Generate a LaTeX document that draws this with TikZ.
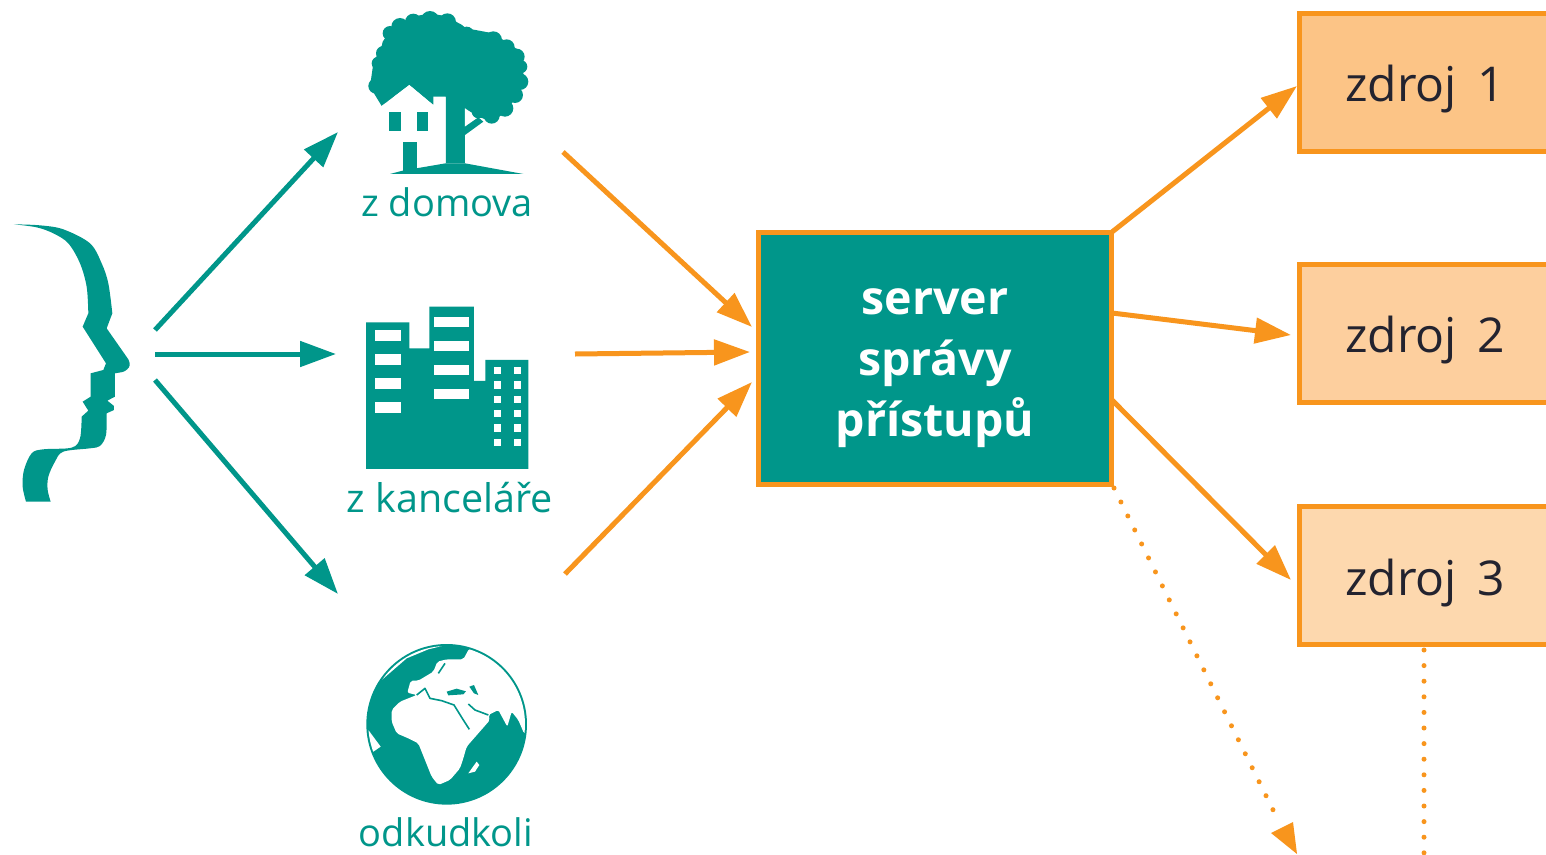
\documentclass[tikz,border=0pt]{standalone}
\usepackage{fontspec}
\setmainfont{Open Sans}
\usetikzlibrary{arrows.meta}
\definecolor{teal1}{HTML}{00968A}
\definecolor{orange1}{HTML}{F8951D}
\definecolor{inkdark}{HTML}{23232F}
\definecolor{src1}{HTML}{FCC486}
\definecolor{src2}{HTML}{FDCF9E}
\definecolor{src3}{HTML}{FDD8AE}
\tikzset{
 x=1pt,y=-1pt,
 zoomscope/.style={x=0.3333pt,y=-0.3333pt},
 art/.style={fill=teal1,draw=none},
 blank/.style={fill=white,draw=none},
 sea/.style={draw=teal1,line width=1.6pt,line join=round,fill=none},
 lab/.style={text=teal1,font=\fontsize{38}{38}\selectfont,inner sep=0pt,anchor=base},
 srcbox/.style={draw=orange1,line width=5pt,minimum width=251pt,minimum height=138pt,inner sep=0pt,text height=51pt,text depth=12pt,font=\fontsize{48}{48}\selectfont,text=inkdark},
 srvbox/.style={draw=orange1,fill=teal1,line width=5pt,minimum width=353pt,minimum height=252pt,text=white,inner sep=0pt,align=center,font=\fontsize{46.5}{61}\selectfont\bfseries},
 tarrow/.style={draw=teal1,line width=5pt,-{Triangle[length=36pt,width=25pt]}},
 oarrow/.style={draw=orange1,line width=5pt,-{Triangle[length=36pt,width=25pt]}},
 darrow/.style={draw=orange1,line width=5pt,line cap=round,dash pattern=on 0pt off 15.6pt},
}
\begin{document}
\begin{tikzpicture}
\useasboundingbox (0,0) rectangle (1546,854);
\fill[white] (0,0) rectangle (1546,854);
% face
\begin{scope}[shift={(0pt,-200pt)},zoomscope]
\fill[art] plot[smooth,tension=0.55] coordinates {(42,73) (120,76) (190,88) (270,130) (305,190) (325,250) (337,340)} -- (320,385) -- (385,478) [rounded corners=3pt] -- (392,497) -- (375,515) [sharp corners] -- (345,520) -- (345,590) -- (322,602) -- (342,618) -- (342,630) -- (320,640) -- plot[smooth,tension=0.55] coordinates {(320,640) (318,705) (300,738) (270,745) (190,755) (165,785) (145,830) (143,870) (152,905)} -- (78,905) -- plot[smooth,tension=0.55] coordinates {(78,905) (68,860) (72,810) (95,760) (130,748) (215,743) (240,715) (245,650)} -- (265,632) -- (248,605) -- (272,590) -- (272,520) -- (310,510) -- (318,490) -- (248,380) -- (265,340) -- plot[smooth,tension=0.55] coordinates {(265,340) (260,260) (240,190) (205,130) (160,100) (110,82) (42,73)} -- cycle;
\end{scope}
% tree and house
\begin{scope}[shift={(350pt,0pt)},zoomscope]
\fill[art] (115,95) -- (190,50) -- (240,40) -- (295,50) -- (350,85) -- (430,100) -- (505,150) -- (525,245) -- (470,335) -- (425,365) -- (385,350) -- (345,325) -- (345,490) -- (287,490) -- (287,290) -- (250,315) -- (178,255) -- (95,318) -- (60,260) -- (70,190) -- cycle;
\foreach \cx/\cy/\r in {120/100/22,150/80/26,190/66/25,240/60/27,292/66/26,322/92/22,350/102/22,385/118/20,430/120/26,470/142/24,500/170/24,512/200/20,510/245/25,495/285/24,465/325/25,425/347/24,385/335/20,85/190/20,100/160/22,120/135/24,78/258/23,105/285/25}
  \fill[art] (\cx,\cy) circle[x radius=\r,y radius=\r];
\fill[blank] (95,318) -- (178,255) -- (250,315) -- (250,290) -- (287,290) -- (287,490) -- (158,512) -- (95,512) -- cycle;
\fill[blank] (345,325) -- (375,358) -- (345,380) -- cycle;
\fill[art] (345,380) -- (385,352) -- (400,365) -- (345,405) -- cycle;
\fill[art] (117,337) rectangle (152,392);
\fill[art] (200,337) rectangle (235,392);
\fill[art] (158,425) rectangle (200,515);
\fill[art] (120,522) -- (158,512) -- (287,490) -- (345,490) -- (520,522) -- cycle;
\end{scope}
% buildings
\begin{scope}[shift={(340pt,-295pt)},zoomscope]
\fill[art] (78,82) -- (208,82) -- (208,160) -- (268,160) -- (268,35) -- (402,35) -- (402,258) -- (436,258) -- (436,195) -- (565,195) -- (565,522) -- (78,522) -- cycle;
\foreach \wy in {105,177,250,322} \fill[blank] (105,\wy) rectangle (182,\wy+33);
\foreach \wy in {66,138,210,281} \fill[blank] (281,\wy) rectangle (388,\wy+31);
\foreach \wy in {216,259,302,345,388,431} {\fill[blank] (461,\wy) rectangle (483,\wy+22); \fill[blank] (522,\wy) rectangle (544,\wy+22);}
\end{scope}
% globe
\begin{scope}[shift={(350pt,-630pt)},zoomscope]
\fill[art] (290,283) circle[x radius=241,y radius=241];
\begin{scope}
\clip (290,283) circle[x radius=235,y radius=235];
\fill[blank,rounded corners=2pt] (125,240) -- (150,215) -- (200,195) -- (172,188) -- (182,152) -- (205,152) -- (250,125) -- (262,95) -- (290,88) -- (340,88) -- (358,55) -- (540,100) -- (540,320) -- (522,310) -- (505,270) -- (485,245) -- (472,290) -- (445,240) -- (415,255) -- (420,270) -- (385,310) -- (350,350) -- (340,385) -- (330,415) -- (300,450) -- (265,465) -- (245,440) -- (225,390) -- (205,340) -- (175,325) -- (140,310) -- (125,275) -- cycle;
\fill[blank] (95,150) -- (170,85) -- (235,58) -- (300,42) -- (280,20) -- (80,100) -- cycle;
\fill[blank] (55,300) -- (92,350) -- (70,365) -- (40,360) -- cycle;
\fill[blank] (355,430) -- (380,395) -- (388,405) -- (375,425) -- cycle;
\end{scope}
\draw[sea] (200,195) -- (225,175) -- (240,205) -- (275,212) -- (312,225) -- (340,270) -- (358,298);
\draw[sea] (355,222) -- (375,240) -- (415,255);
\draw[sea] (285,100) -- (265,130);
\fill[art] (290,185) -- (320,176) -- (348,184) -- (340,193) -- (295,196) -- cycle;
\fill[art] (358,170) -- (372,165) -- (385,195) -- (372,190) -- cycle;
\end{scope}
% labels
\node[lab] (home) at (447,216) {z domova};
\node[lab,font=\fontsize{39.5}{39.5}\selectfont] (office) at (450,512) {z kanceláře};
\node[lab] (any) at (446,846) {odkudkoli};
% server and sources
\node[srvbox] (srv) at (935,358.5) {\rule{0pt}{46pt}server\\správy\\přístupů};
\node[srcbox,fill=src1] (z1) at (1425,82) {zdroj \hspace{8pt}1};
\node[srcbox,fill=src2] (z2) at (1425,333) {zdroj \hspace{8pt}2};
\node[srcbox,fill=src3] (z3) at (1425,575.5) {zdroj \hspace{8pt}3};
% free ends
\coordinate (fa) at (155,330);
\coordinate (fb) at (155,354);
\coordinate (fc) at (155,380);
\coordinate (ta) at (338,132);
\coordinate (tb) at (336,354);
\coordinate (tc) at (338,594);
\coordinate (oa) at (563,152);
\coordinate (ob) at (575,354);
\coordinate (oc) at (565,574);
\coordinate (ia) at (752,327);
\coordinate (ib) at (750,352);
\coordinate (ic) at (752,382);
\coordinate (sa) at (1112,232);
\coordinate (sb) at (1112,313);
\coordinate (sc) at (1112,400);
\coordinate (sd) at (1114,488);
\coordinate (ea) at (1297,86);
\coordinate (eb) at (1291,335);
\coordinate (ec) at (1291,580);
\coordinate (ed) at (1279,822);
\coordinate (tip) at (1297,854);
\coordinate (cl) at (1271,833);
\coordinate (cr) at (1293,822);
\coordinate (fe) at (1424,650);
\coordinate (ee) at (1424,854);
\draw[tarrow] (fa) -- (ta);
\draw[tarrow] (fb) -- (tb);
\draw[tarrow] (fc) -- (tc);
\draw[oarrow] (oa) -- (ia);
\draw[oarrow] (ob) -- (ib);
\draw[oarrow] (oc) -- (ic);
\draw[oarrow] (sa) -- (ea);
\draw[oarrow] (sb) -- (eb);
\draw[oarrow] (sc) -- (ec);
\draw[darrow] (sd) -- (ed);
\fill[orange1] (tip) -- (cl) -- (cr) -- cycle;
\draw[darrow] (fe) -- (ee);
\end{tikzpicture}
\end{document}
